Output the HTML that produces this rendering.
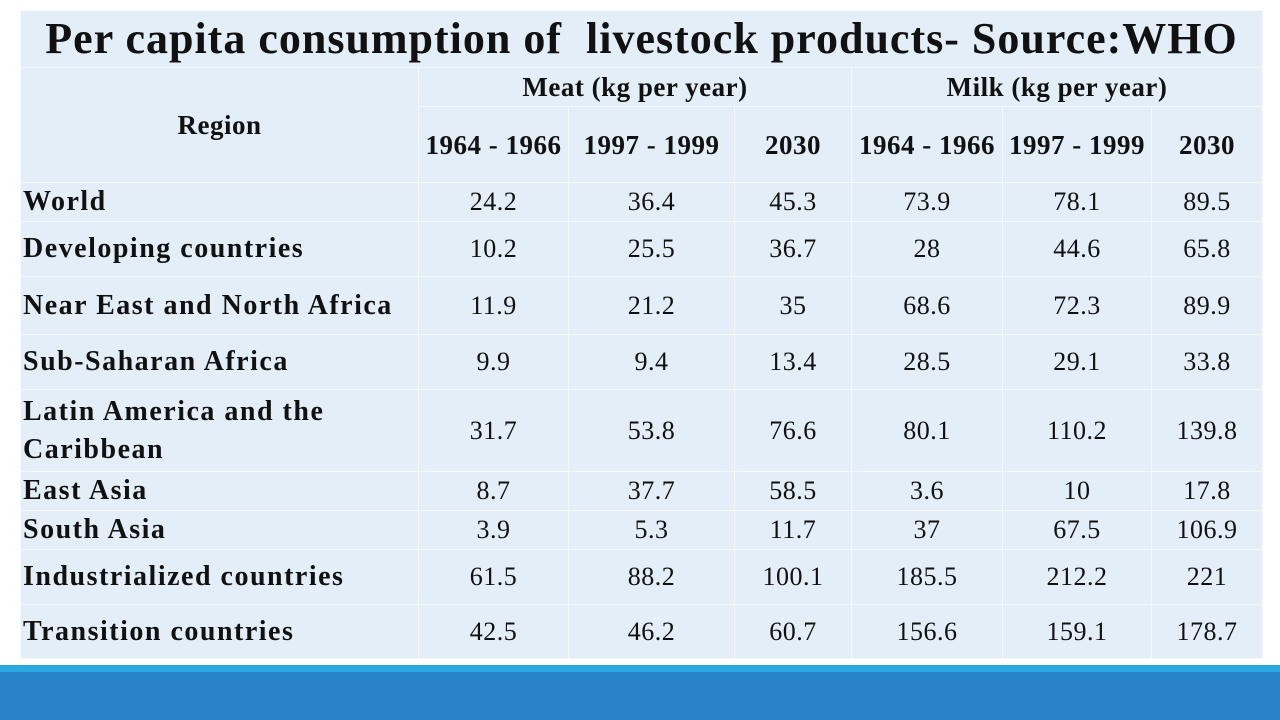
<!DOCTYPE html>
<html><head><meta charset="utf-8"><style>
body{margin:0;width:1280px;height:720px;background:#fff;position:relative;overflow:hidden;font-family:"Liberation Serif",serif;}
table{position:absolute;left:20px;top:10px;border-collapse:collapse;table-layout:fixed;width:1242px;}
td{background:#e3eef8;border:1px solid #f6f9fc;padding:0;font-size:26px;color:#111;text-align:center;vertical-align:middle;line-height:38px;letter-spacing:0.5px;white-space:nowrap;}
td.r{text-align:left;font-weight:bold;padding-left:2px;font-size:28px;letter-spacing:1.5px;}
.h{font-weight:bold;letter-spacing:0.5px;font-size:27px;}
.t{font-size:44px;font-weight:bold;letter-spacing:1px;}
#b1{position:absolute;left:0;top:665px;width:1280px;height:7px;background:#29a9e0;}
#b2{position:absolute;left:0;top:672px;width:1280px;height:48px;background:#2783c6;}
</style></head><body>
<table>
<colgroup><col style="width:398px"><col style="width:150px"><col style="width:166px"><col style="width:117px"><col style="width:151px"><col style="width:149px"><col style="width:111px"></colgroup>
<tr style="height:57px"><td colspan="7" class="t">Per capita consumption of&nbsp; livestock products- Source:WHO</td></tr>
<tr style="height:39px"><td rowspan="2" class="h">Region</td><td colspan="3" class="h">Meat (kg per year)</td><td colspan="3" class="h">Milk (kg per year)</td></tr>
<tr style="height:76px"><td class="h">1964 - 1966</td><td class="h">1997 - 1999</td><td class="h">2030</td><td class="h">1964 - 1966</td><td class="h">1997 - 1999</td><td class="h">2030</td></tr>
<tr style="height:39px"><td class="r">World</td><td>24.2</td><td>36.4</td><td>45.3</td><td>73.9</td><td>78.1</td><td>89.5</td></tr>
<tr style="height:55px"><td class="r">Developing countries</td><td>10.2</td><td>25.5</td><td>36.7</td><td>28</td><td>44.6</td><td>65.8</td></tr>
<tr style="height:58px"><td class="r">Near East and North Africa</td><td>11.9</td><td>21.2</td><td>35</td><td>68.6</td><td>72.3</td><td>89.9</td></tr>
<tr style="height:55px"><td class="r">Sub-Saharan Africa</td><td>9.9</td><td>9.4</td><td>13.4</td><td>28.5</td><td>29.1</td><td>33.8</td></tr>
<tr style="height:82px"><td class="r">Latin America and the<br>Caribbean</td><td>31.7</td><td>53.8</td><td>76.6</td><td>80.1</td><td>110.2</td><td>139.8</td></tr>
<tr style="height:39px"><td class="r">East Asia</td><td>8.7</td><td>37.7</td><td>58.5</td><td>3.6</td><td>10</td><td>17.8</td></tr>
<tr style="height:39px"><td class="r">South Asia</td><td>3.9</td><td>5.3</td><td>11.7</td><td>37</td><td>67.5</td><td>106.9</td></tr>
<tr style="height:55px"><td class="r">Industrialized countries</td><td>61.5</td><td>88.2</td><td>100.1</td><td>185.5</td><td>212.2</td><td>221</td></tr>
<tr style="height:54px"><td class="r">Transition countries</td><td>42.5</td><td>46.2</td><td>60.7</td><td>156.6</td><td>159.1</td><td>178.7</td></tr>
</table>
<div id="b1"></div>
<div id="b2"></div>
</body></html>
